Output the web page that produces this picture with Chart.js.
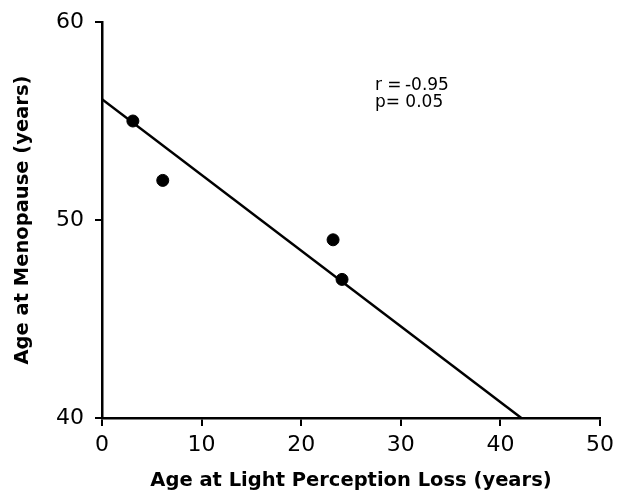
<!DOCTYPE html>
<html>
<head>
<meta charset="utf-8">
<script src="https://cdn.jsdelivr.net/npm/chart.js@4.4.0/dist/chart.umd.min.js"></script>
<style>
  html, body { margin: 0; padding: 0; background: #fff; }
  #wrap { width: 617px; height: 493px; }
</style>
</head>
<body>
<div id="wrap"><canvas id="c" width="617" height="493"></canvas></div>
<script>
// Observed points
const lossAge = [3.1, 6.1, 23.2, 24.1];
const menopauseAge = [55.0, 52.0, 49.0, 47.0];
// Regression line endpoints
const fitX = [0, 42.1];
const fitY = [56.1, 40.0];
// Axis ticks
const xTicks = [0, 10, 20, 30, 40, 50];
const yTicks = [40, 50, 60];
// Annotation
const statLines = ['r =\u2009-0.95', 'p= 0.05'];
const statPos = { x: 27.4, y: [56.81, 55.95] };

const FONT = "'DejaVu Sans', sans-serif";

const annot = {
  id: 'annot',
  afterDatasetsDraw(chart) {
    const ctx = chart.ctx;
    const xs = chart.scales.x, ys = chart.scales.y;
    ctx.save();
    ctx.fillStyle = '#000';
    ctx.font = '17px ' + FONT;
    ctx.textAlign = 'left';
    ctx.textBaseline = 'middle';
    statLines.forEach((t, i) => {
      ctx.fillText(t, xs.getPixelForValue(statPos.x), ys.getPixelForValue(statPos.y[i]));
    });
    ctx.restore();
  }
};

new Chart(document.getElementById('c'), {
  type: 'scatter',
  data: {
    datasets: [
      {
        type: 'scatter',
        data: lossAge.map((x, i) => ({ x: x, y: menopauseAge[i] })),
        backgroundColor: '#000',
        borderColor: '#000',
        pointRadius: 6,
        pointHoverRadius: 6
      },
      {
        type: 'line',
        data: fitX.map((x, i) => ({ x: x, y: fitY[i] })),
        borderColor: '#000',
        borderWidth: 2.5,
        pointRadius: 0,
        fill: false
      }
    ]
  },
  options: {
    responsive: false,
    animation: false,
    layout: { padding: { top: 22, right: 17, left: 0, bottom: 0 } },
    plugins: { legend: { display: false }, tooltip: { enabled: false } },
    scales: {
      x: {
        type: 'linear',
        min: 0, max: 50,
        afterBuildTicks(s) { s.ticks = xTicks.map(v => ({ value: v })); },
        afterFit(s) { s.height = 75; s.paddingLeft = 0; s.paddingRight = 0; },
        border: { display: true, color: '#000', width: 2.5 },
        grid: { display: true, drawOnChartArea: false, drawTicks: true, tickLength: 8, color: '#000', lineWidth: 2 },
        ticks: { color: '#000', font: { family: FONT, size: 22 }, padding: 6, maxRotation: 0 },
        title: { display: true, text: 'Age at Light Perception Loss (years)', color: '#000', font: { family: FONT, size: 19.5, weight: 'bold' }, padding: { top: 9, bottom: 0 } }
      },
      y: {
        type: 'linear',
        min: 40, max: 60,
        afterBuildTicks(s) { s.ticks = yTicks.map(v => ({ value: v })); },
        afterFit(s) { s.width = 102; s.paddingTop = 0; s.paddingBottom = 0; },
        border: { display: true, color: '#000', width: 2.5 },
        grid: { display: true, drawOnChartArea: false, drawTicks: true, tickLength: 7, color: '#000', lineWidth: 2 },
        ticks: { color: '#000', font: { family: FONT, size: 22 }, padding: 11 },
        title: { display: true, text: 'Age at Menopause (years)', color: '#000', font: { family: FONT, size: 19.5, weight: 'bold' }, padding: { top: 11, bottom: 6 } }
      }
    }
  },
  plugins: [annot]
});
</script>
</body>
</html>
